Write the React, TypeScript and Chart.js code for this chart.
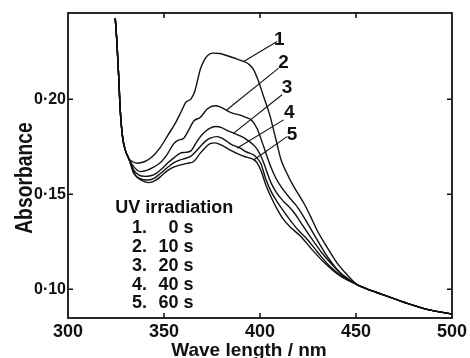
import React, { useEffect, useRef } from 'react';
import { Chart, registerables } from 'chart.js';
Chart.register(...registerables);

// ---- axis ticks ----
const xTicks = [300, 350, 400, 450, 500];
const yTicks = [0.1, 0.15, 0.2];

// ---- shared parts of all spectra ----
const headWl = [324.6, 325.5, 326.4, 327.2, 328.4, 329.8, 331.6];
const headAbs = [0.2426, 0.2295, 0.2119, 0.1944, 0.1803, 0.1733, 0.1689];
const tailWl = [455, 463, 475, 485, 492, 500];
const tailAbs = [0.1005, 0.0975, 0.0932, 0.09, 0.0884, 0.087];

// ---- curve 1 : 0 s ----
const wl1 = [333.5, 336, 340, 344, 348, 352, 356, 359, 361.5, 364, 366, 369, 371, 373, 375.5, 379, 383, 387, 391, 394, 396.5, 399, 402, 405, 408, 411, 414, 417, 420, 423, 426, 430, 435, 440, 445, 450.5];
const abs1 = [0.1672, 0.1663, 0.1672, 0.1698, 0.1745, 0.181, 0.1875, 0.1935, 0.1985, 0.2, 0.204, 0.216, 0.2205, 0.2232, 0.2242, 0.224, 0.2228, 0.2215, 0.22, 0.2185, 0.2158, 0.21, 0.201, 0.192, 0.18, 0.168, 0.161, 0.155, 0.15, 0.145, 0.139, 0.1305, 0.122, 0.114, 0.108, 0.1025];

// ---- curve 2 : 10 s ----
const wl2 = [334.2, 337.7, 341, 345, 348, 352, 355, 357.5, 360, 362.5, 365.5, 369, 372.5, 376.7, 379.5, 382.8, 386, 390, 393, 395.5, 398.4, 401.9, 405.4, 408.5, 412, 415.5, 418.5, 421, 424, 428.8, 433, 437, 441, 445.5, 450.5];
const abs2 = [0.1645, 0.1619, 0.1625, 0.1645, 0.1665, 0.1715, 0.1765, 0.1785, 0.1792, 0.183, 0.1885, 0.1905, 0.1948, 0.1965, 0.1958, 0.194, 0.1925, 0.1915, 0.1903, 0.189, 0.1847, 0.1751, 0.165, 0.158, 0.1525, 0.148, 0.1445, 0.141, 0.136, 0.1277, 0.1205, 0.1145, 0.1095, 0.1058, 0.1025];

// ---- curve 3 : 20 s ----
const wl3 = [334.2, 337, 340, 343, 346, 349, 352, 355, 358.5, 361, 364, 367, 370, 373.5, 377, 380, 383, 386.3, 390, 393.2, 397.5, 400, 402, 405.5, 408.5, 412, 415, 418, 421, 426, 432, 438, 444, 450.5];
const abs3 = [0.1627, 0.16, 0.1594, 0.1597, 0.161, 0.1635, 0.1665, 0.169, 0.1716, 0.172, 0.1728, 0.1775, 0.1815, 0.1845, 0.1856, 0.185, 0.1835, 0.1821, 0.1805, 0.1786, 0.175, 0.171, 0.1663, 0.1565, 0.151, 0.1465, 0.1435, 0.14, 0.1355, 0.128, 0.1195, 0.1125, 0.1065, 0.1025];

// ---- curve 4 : 40 s ----
const wl4 = [334.2, 337, 339.5, 342, 345, 348, 352, 355, 358.5, 361, 364, 368.9, 371.5, 374.1, 377.6, 381, 385, 389.7, 393, 396.7, 398.5, 400.5, 403, 406, 409, 412, 416, 420, 424, 430, 436, 443, 450.5];
const abs4 = [0.161, 0.1585, 0.1576, 0.1575, 0.1585, 0.1608, 0.1642, 0.1665, 0.1681, 0.1688, 0.17, 0.1751, 0.1778, 0.1795, 0.1803, 0.179, 0.1762, 0.1742, 0.1722, 0.1707, 0.169, 0.166, 0.158, 0.151, 0.146, 0.1415, 0.136, 0.131, 0.127, 0.1195, 0.1125, 0.1065, 0.1025];

// ---- curve 5 : 60 s ----
const wl5 = [335, 338, 340, 342, 344, 346, 349, 352, 355, 358.5, 362, 365.5, 368.9, 372, 374, 376.7, 380, 384, 389.7, 393, 396.7, 398.5, 400.5, 403, 406, 409, 412, 416, 421, 427, 434, 441, 450.5];
const abs5 = [0.1602, 0.1575, 0.1565, 0.1561, 0.1565, 0.1575, 0.16, 0.1625, 0.1642, 0.1654, 0.1662, 0.1672, 0.1716, 0.175, 0.1766, 0.177, 0.1758, 0.1735, 0.1707, 0.1695, 0.1682, 0.1665, 0.1625, 0.155, 0.148, 0.142, 0.137, 0.1325, 0.128, 0.121, 0.1135, 0.1075, 0.1025];

const curveWl = [wl1, wl2, wl3, wl4, wl5];
const curveAbs = [abs1, abs2, abs3, abs4, abs5];

// ---- curve labels with leader lines (data coordinates) ----
const curveLabels = ['1', '2', '3', '4', '5'];
const labelX = [410.1, 412.3, 414.1, 415.3, 416.7];
const labelY = [0.2312, 0.2189, 0.2058, 0.1926, 0.1812];
const leaderFromX = [408.9, 409.7, 411.5, 412.3, 414.1];
const leaderFromY = [0.2303, 0.2163, 0.2023, 0.1891, 0.1803];
const leaderToX = [391.5, 382.8, 386.3, 388, 396.7];
const leaderToY = [0.2198, 0.1944, 0.1821, 0.1742, 0.168];

// ---- legend text ----
const legendTitle = 'UV irradiation';
const legendNums = ['1.', '2.', '3.', '4.', '5.'];
const legendTimes = ['0 s', '10 s', '20 s', '40 s', '60 s'];

const xTitle = 'Wave length / nm';
const yTitle = 'Absorbance';

const FONT = '"Liberation Sans", Arial, sans-serif';
const INK = '#111';

function zip(xs: number[], ys: number[]) {
  return xs.map((x, i) => ({ x, y: ys[i] }));
}

const overlay = {
  id: 'overlay',
  afterDatasetsDraw(chart: any) {
    const { ctx, chartArea: a, scales } = chart;
    const xs = scales.x;
    const ys = scales.y;
    ctx.save();
    ctx.strokeStyle = INK;
    ctx.fillStyle = INK;
    // frame
    ctx.lineWidth = 1.8;
    ctx.strokeRect(a.left, a.top, a.right - a.left, a.bottom - a.top);
    // inward ticks
    ctx.lineWidth = 1.5;
    const tl = 5;
    ctx.beginPath();
    xTicks.slice(1, -1).forEach((v) => {
      const p = xs.getPixelForValue(v);
      ctx.moveTo(p, a.bottom); ctx.lineTo(p, a.bottom - tl);
      ctx.moveTo(p, a.top); ctx.lineTo(p, a.top + tl);
    });
    yTicks.forEach((v) => {
      const p = ys.getPixelForValue(v);
      ctx.moveTo(a.left, p); ctx.lineTo(a.left + tl, p);
      ctx.moveTo(a.right, p); ctx.lineTo(a.right - tl, p);
    });
    ctx.stroke();

    // curve labels
    ctx.font = `bold 19px ${FONT}`;
    ctx.textAlign = 'center';
    ctx.textBaseline = 'middle';
    curveLabels.forEach((t, i) => {
      ctx.fillText(t, xs.getPixelForValue(labelX[i]), ys.getPixelForValue(labelY[i]));
    });

    // legend block
    ctx.font = `bold 18px ${FONT}`;
    ctx.textBaseline = 'alphabetic';
    ctx.textAlign = 'left';
    const lx = xs.getPixelForValue(324.6);
    const ly = ys.getPixelForValue(0.14);
    ctx.fillText(legendTitle, lx, ly);
    const numX = xs.getPixelForValue(333.3);
    const timeX = xs.getPixelForValue(365.4);
    legendNums.forEach((n, i) => {
      const y = ly + 20 + i * 18.8;
      ctx.textAlign = 'left';
      ctx.fillText(n, numX, y);
      ctx.textAlign = 'right';
      ctx.fillText(legendTimes[i], timeX, y);
    });

    // axis titles
    ctx.font = `bold 19px ${FONT}`;
    ctx.textAlign = 'center';
    ctx.textBaseline = 'alphabetic';
    ctx.fillText(xTitle, 249, 355.5);
    ctx.save();
    ctx.translate(32, 178);
    ctx.rotate(-Math.PI / 2);
    ctx.scale(0.84, 1);
    ctx.font = `bold 23px ${FONT}`;
    ctx.fillText(yTitle, 0, 0);
    ctx.restore();
    ctx.restore();
  },
};

export default function App() {
  const ref = useRef<HTMLCanvasElement | null>(null);
  useEffect(() => {
    if (!ref.current) return;
    const curveSets = curveWl.map((wl, i) => ({
      data: zip(headWl.concat(wl, tailWl), headAbs.concat(curveAbs[i], tailAbs)),
      borderColor: INK,
      borderWidth: 1.4,
      pointRadius: 0,
      fill: false,
      cubicInterpolationMode: 'monotone' as const,
    }));
    const leaderSets = curveLabels.map((_, i) => ({
      data: [
        { x: leaderFromX[i], y: leaderFromY[i] },
        { x: leaderToX[i], y: leaderToY[i] },
      ],
      borderColor: INK,
      borderWidth: 1.1,
      pointRadius: 0,
      fill: false,
      tension: 0,
    }));
    const tickFont = { family: FONT, size: 18, weight: 'bold' as const };
    const chart = new Chart(ref.current, {
      type: 'line',
      data: { datasets: [...curveSets, ...leaderSets] as any },
      options: {
        animation: false,
        responsive: false,
        devicePixelRatio: 1,
        layout: { padding: { top: 13, right: 18, left: 0, bottom: 0 } },
        plugins: { legend: { display: false }, tooltip: { enabled: false } },
        scales: {
          x: {
            type: 'linear',
            min: 300,
            max: 500,
            grid: { display: false, drawTicks: false },
            border: { display: false },
            ticks: { padding: 3, color: INK, font: tickFont, callback: (v: any) => String(v) },
            afterBuildTicks: (s: any) => { s.ticks = xTicks.map((v) => ({ value: v })); },
            afterFit: (s: any) => { s.height = 40; s.paddingLeft = 0; s.paddingRight = 0; },
          },
          y: {
            type: 'linear',
            min: 0.0849,
            max: 0.2453,
            grid: { display: false, drawTicks: false },
            border: { display: false },
            ticks: {
              padding: 2,
              color: INK,
              font: { ...tickFont, size: 16 },
              callback: (v: any) => Number(v).toFixed(2).replace('.', '·'),
            },
            afterBuildTicks: (s: any) => { s.ticks = yTicks.map((v) => ({ value: v })); },
            afterFit: (s: any) => { s.width = 68; s.paddingTop = 0; s.paddingBottom = 0; },
          },
        },
      },
      plugins: [overlay],
    });
    return () => chart.destroy();
  }, []);
  return (
    <div style={{ position: 'fixed', left: 0, top: 0, width: 470, height: 358, background: '#fff' }}>
      <canvas ref={ref} width={470} height={358} style={{ display: 'block', width: 470, height: 358 }} />
    </div>
  );
}
